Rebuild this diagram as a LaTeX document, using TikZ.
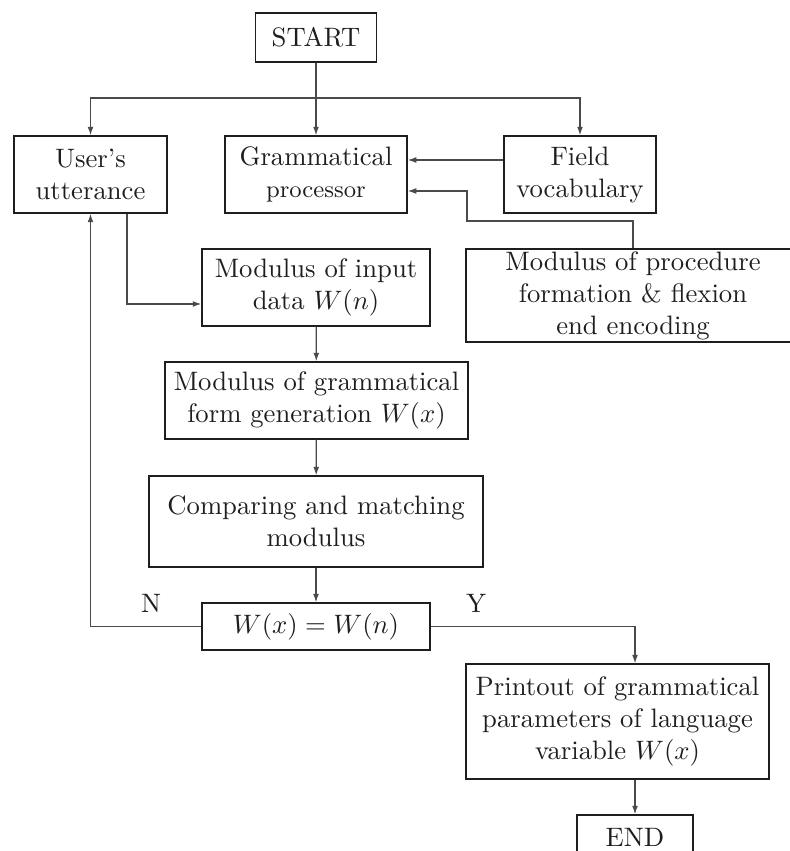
\documentclass[tikz,border=0pt]{standalone}
\usetikzlibrary{arrows.meta}
\definecolor{FlowInk}{HTML}{1E1E1E}
\definecolor{FlowLine}{HTML}{4A4A4A}
\tikzset{
  flow box/.style={draw=FlowInk, line width=.5pt, inner sep=0pt, align=center, text=FlowInk},
  flow link/.style={draw=FlowLine, line width=.45pt, -{Latex[length=3.2pt,width=2.2pt]}},
  flow wire/.style={draw=FlowLine, line width=.45pt},
  flow mark/.style={text=FlowInk, inner sep=0pt},
}

\begin{document}
\begin{tikzpicture}[x=.375pt,y=-.375pt]
  \useasboundingbox (0,0) rectangle (789,851);

  % start and the three entry boxes
  \node[flow box, minimum width=45.4pt, minimum height=18.4pt] (start) at (316,37.5) {START};
  \node[flow box, minimum width=57.4pt, minimum height=28.9pt] (user) at (90.5,174.5) {User's\\utterance};
  \node[flow box, minimum width=68.3pt, minimum height=28.9pt] (gram) at (316,174.5) {Grammatical\\\small processor};
  \node[flow box, minimum width=57pt, minimum height=28.9pt] (field) at (580,174.5) {Field\\vocabulary};
  \coordinate (split) at (316,98);

  \draw[flow wire] (start) -- (split);
  \draw[flow link] (split) -- (gram);
  \draw[flow link] (split) -| (user);
  \draw[flow link] (split) -| (field);
  \draw[flow link] (field.west |- 0,160) -- (gram.east |- 0,160);

  % input and procedure moduli
  \node[flow box, minimum width=125.2pt, minimum height=34.9pt] (proc) at (633,295.5)
    {Modulus of procedure\\formation \& flexion\\end encoding};
  \node[flow box, minimum width=85.5pt, minimum height=28.9pt] (input) at (316,287.5) {Modulus of input\\data $W(n)$};
  \draw[flow link] (proc.north) |- (467,221) |- (gram.east |- 0,191);
  \draw[flow link] (user.south -| 127,0) |- (input.west |- 0,304);

  % main column
  \node[flow box, minimum width=113.6pt, minimum height=28.9pt] (form) at (316.5,400.5)
    {Modulus of grammatical\\form generation $W(x)$};
  \node[flow box, minimum width=125.3pt, minimum height=34.1pt] (match) at (316,521.5)
    {Comparing and matching\\modulus};
  \node[flow box, minimum width=85.5pt, minimum height=17.6pt] (test) at (316,626.5) {$W(x)=W(n)$};
  \draw[flow link] (input) -- (form);
  \draw[flow link] (form) -- (match);
  \draw[flow link] (match) -- (test);

  % decision
  \node[flow mark] (no) at (151,603) {N};
  \node[flow mark] (yes) at (476,603) {Y};
  \draw[flow link] (test.west) -| (user.south);

  \node[flow box, minimum width=113.6pt, minimum height=43.1pt] (print) at (617.5,721.5)
    {Printout of grammatical\\parameters of language\\variable $W(x)$};
  \node[flow box, minimum width=43.5pt, minimum height=16.5pt] (stop) at (635,837) {END};
  \draw[flow link] (test.east) -| (print.north -| stop.north);
  \draw[flow link] (print.south -| stop.north) -- (stop.north);
\end{tikzpicture}
\end{document}
